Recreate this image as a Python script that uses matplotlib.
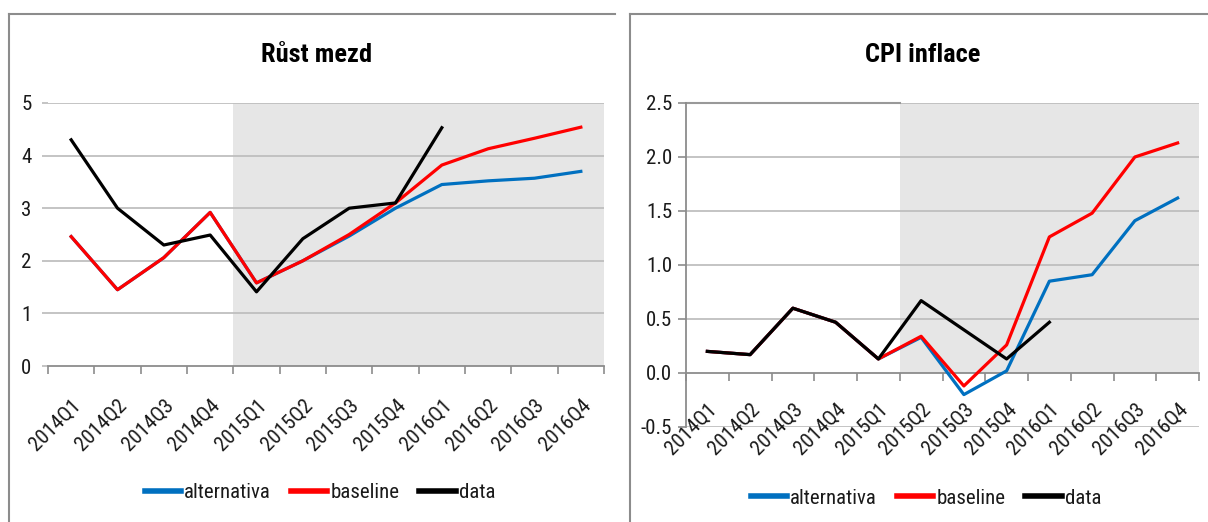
import numpy as np
import matplotlib
matplotlib.use("Agg")
import matplotlib.pyplot as plt
from matplotlib.lines import Line2D

plt.rcParams["font.family"] = ["Roboto Condensed", "Liberation Sans Narrow", "Roboto", "DejaVu Sans"]

# Data
kvartaly = ["2014Q1", "2014Q2", "2014Q3", "2014Q4", "2015Q1", "2015Q2",
            "2015Q3", "2015Q4", "2016Q1", "2016Q2", "2016Q3", "2016Q4"]

mzdy_alternativa = [2.46, 1.45, 2.06, 2.92, 1.58, 2.00, 2.47, 3.00, 3.45, 3.52, 3.57, 3.70]
mzdy_baseline = [2.46, 1.45, 2.06, 2.92, 1.58, 2.00, 2.50, 3.10, 3.82, 4.13, 4.33, 4.54]
mzdy_data = [4.30, 3.00, 2.30, 2.49, 1.41, 2.42, 3.00, 3.10, 4.53, np.nan, np.nan, np.nan]

cpi_alternativa = [0.20, 0.17, 0.60, 0.47, 0.13, 0.33, -0.20, 0.02, 0.85, 0.91, 1.41, 1.62]
cpi_baseline = [0.20, 0.17, 0.60, 0.47, 0.13, 0.34, -0.12, 0.26, 1.26, 1.48, 2.00, 2.13]
cpi_data = [0.20, 0.17, 0.60, 0.47, 0.13, 0.67, 0.40, 0.13, 0.47, np.nan, np.nan, np.nan]

barvy = {"alternativa": "#0070C0", "baseline": "#FF0000", "data": "#000000"}
SEDA_MRIZKA = "#BFBFBF"
SEDA_OSA = "#8C8C8C"
STIN = "#E6E6E6"
TEXT = "#1A1A1A"

W, H = 1208, 522
fig = plt.figure(figsize=(W / 100, H / 100), dpi=100)


def fx(px):
    return px / W


def fy(px):
    return 1 - px / H


# ramecky panelu
for x0, x1 in [(9, 615), (630, 1215)]:
    fig.add_artist(Line2D([fx(x0), fx(x1)], [fy(14), fy(14)], color="#8C8C8C", lw=1.5,
                          transform=fig.transFigure))
    fig.add_artist(Line2D([fx(x0), fx(x0)], [fy(14), fy(530)], color="#8C8C8C", lw=1.5,
                          transform=fig.transFigure))

x = np.arange(len(kvartaly))


def nakresli(ax, alt, base, dat, stin_od, stin_y0, ylim, yticks, yfmt):
    ax.fill_between([stin_od, len(kvartaly) - 0.5], stin_y0, ylim[1], color=STIN,
                    zorder=0.3, lw=0)
    for yt in yticks:
        if yt != 0:
            ax.axhline(yt, color=SEDA_MRIZKA, lw=1.3, zorder=0.5)
    ax.plot(x, alt, color=barvy["alternativa"], lw=2.3, label="alternativa", zorder=3)
    ax.plot(x, base, color=barvy["baseline"], lw=2.3, label="baseline", zorder=4)
    ax.plot(x, dat, color=barvy["data"], lw=2.3, label="data", zorder=5)

    ax.set_xlim(-0.5, len(kvartaly) - 0.5)
    ax.set_ylim(*ylim)
    ax.set_yticks(yticks)
    ax.set_yticklabels([yfmt.format(v) for v in yticks])
    for s in ["top", "right"]:
        ax.spines[s].set_visible(False)
    ax.spines["bottom"].set_position(("data", 0))
    ax.spines["bottom"].set_color(SEDA_OSA)
    ax.spines["bottom"].set_linewidth(1.3)
    ax.spines["bottom"].set_zorder(2)

    ax.set_xticks(np.arange(len(kvartaly) + 1) - 0.5)
    ax.set_xticklabels([])
    ax.tick_params(axis="x", which="major", direction="out", length=6, width=1.2,
                   color=SEDA_OSA)
    ax.set_xticks(x, minor=True)
    ax.set_xticklabels(kvartaly, minor=True, rotation=45, ha="right", va="top",
                       rotation_mode="anchor", fontsize=15, color=TEXT)
    ax.tick_params(axis="x", which="minor", length=0, pad=20)
    ax.tick_params(axis="y", labelsize=15, labelcolor=TEXT)
    ax.patch.set_alpha(0)


# Rust mezd
ax1 = fig.add_axes([fx(48), fy(366), fx(604) - fx(48), fy(103) - fy(366)])
nakresli(ax1, mzdy_alternativa, mzdy_baseline, mzdy_data, 3.5, 0, (0, 5),
         [0, 1, 2, 3, 4, 5], "{:.0f}")
ax1.spines["left"].set_visible(False)
ax1.tick_params(axis="y", length=4, width=1.3, color=SEDA_MRIZKA, pad=8)
ax1.tick_params(axis="x", which="minor", pad=21)

# CPI inflace
ax2 = fig.add_axes([fx(686), fy(427), fx(1199) - fx(686), fy(103) - fy(427)])
nakresli(ax2, cpi_alternativa, cpi_baseline, cpi_data, 4.5, 0, (-0.5, 2.5),
         [-0.5, 0.0, 0.5, 1.0, 1.5, 2.0, 2.5], "{:.1f}")
ax2.plot([-0.5, 4.5], [2.5, 2.5], color="#999999", lw=1.5, zorder=0.6, clip_on=False)
ax2.spines["left"].set_color(SEDA_OSA)
ax2.spines["left"].set_linewidth(1.3)
ax2.tick_params(axis="y", length=6, width=1.2, color=SEDA_OSA, pad=4)
ax2.tick_params(axis="x", which="minor", pad=19)

# titulky
fig.text(fx(317), fy(55), "Růst mezd", ha="center", va="center", fontsize=19,
         fontweight="bold", color="#000000")
fig.text(fx(923), fy(55), "CPI inflace", ha="center", va="center", fontsize=19,
         fontweight="bold", color="#000000")

# legendy
for ax, cx, cy in [(ax1, 320, 493), (ax2, 926, 498)]:
    leg = ax.legend(loc="center", bbox_to_anchor=(fx(cx), fy(cy)),
                    bbox_transform=fig.transFigure, ncol=3, frameon=False,
                    fontsize=15, handlelength=1.75, handletextpad=0.15,
                    columnspacing=0.95)
    for h in leg.get_lines():
        h.set_linewidth(4)
    for t in leg.get_texts():
        t.set_color(TEXT)

fig.savefig("out.png", dpi=100)
plt.close(fig)
